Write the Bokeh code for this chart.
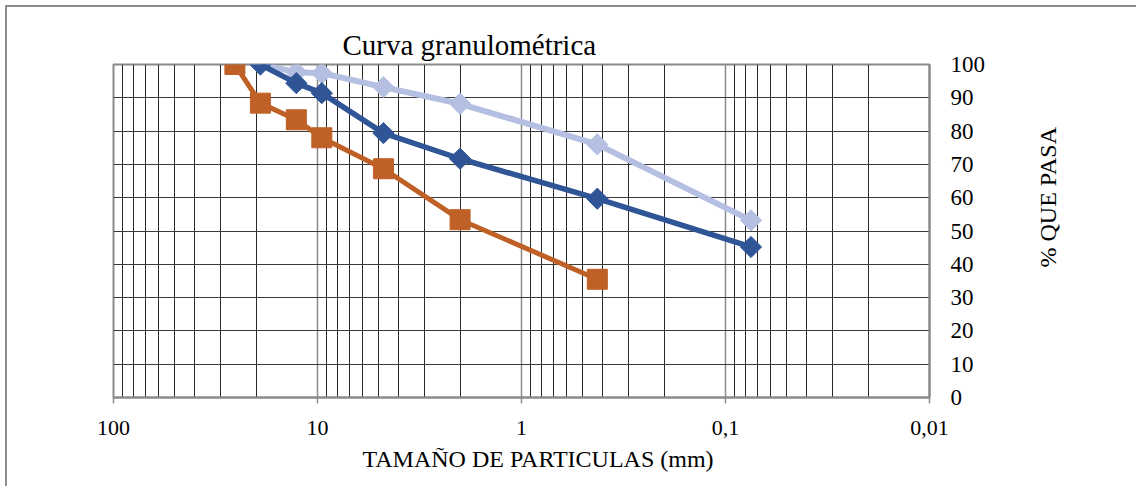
import math
from bokeh.plotting import figure
from bokeh.layouts import row
from bokeh.models import (Range1d, FixedTicker, ColumnDataSource, Title)
from bokeh.embed import file_html
from bokeh.resources import INLINE

# ---- data ----
sieve_mm = [25.4, 19.05, 12.7, 9.525, 4.75, 2.0, 0.425, 0.075]
orange_pass = [100, 88.4, 83.4, 78.0, 68.7, 53.4, 35.5]          # sizes 25.4 .. 0.425
dark_pass = [100, 94.4, 91.4, 79.4, 71.7, 59.7, 45.2]            # sizes 19.05 .. 0.075
light_pass = [100, 97.7, 97.4, 93.2, 88.2, 76.0, 53.2]           # sizes 19.05 .. 0.075
x_ticks = [100, 10, 1, 0.1, 0.01]
x_tick_labels = ["100", "10", "1", "0,1", "0,01"]
y_ticks = [0, 10, 20, 30, 40, 50, 60, 70, 80, 90, 100]
title_text = "Curva granulométrica"
x_title = "TAMAÑO DE PARTICULAS (mm)"
y_title = "% QUE PASA"

FONT = "Liberation Serif"

p = figure(width=1000, height=486, x_axis_type="log",
           x_range=Range1d(100, 0.01), y_range=Range1d(0, 100),
           y_axis_location="right", output_backend="svg",
           toolbar_location=None, title=None,
           min_border_left=113, min_border_right=71,
           min_border_top=64, min_border_bottom=89)
p.background_fill_color = "white"
p.border_fill_color = None
p.outline_line_color = "#8a8a8a"
p.outline_line_width = 2
p.styles = {"box-shadow": "inset 5px 5px 0 0 white, inset 7px 7px 0 0 #8c8c8c",
            "background-color": "white"}

minor = []
for d in [10, 1, 0.1, 0.01]:
    for k in range(2, 10):
        minor.append(round(d * k, 6))

p.xaxis.ticker = FixedTicker(ticks=x_ticks, minor_ticks=minor)
p.xaxis.major_label_overrides = {t: l for t, l in zip(x_ticks, x_tick_labels)}
p.xaxis.major_label_text_font = FONT
p.xaxis.major_label_text_font_size = "22px"
p.xaxis.major_label_text_color = "black"
p.xaxis.major_label_standoff = 17
p.xaxis.axis_line_color = "#8a8a8a"
p.xaxis.axis_line_width = 2
p.xaxis.major_tick_line_color = "#8a8a8a"
p.xaxis.major_tick_line_width = 1.5
p.xaxis.major_tick_out = 6
p.xaxis.major_tick_in = 0
p.xaxis.minor_tick_line_color = None

p.yaxis.ticker = FixedTicker(ticks=y_ticks)
p.yaxis.major_label_text_font = FONT
p.yaxis.major_label_text_font_size = "23px"
p.yaxis.major_label_text_color = "black"
p.yaxis.major_label_standoff = 21
p.yaxis.axis_line_color = "#8a8a8a"
p.yaxis.axis_line_width = 2
p.yaxis.major_tick_out = 0
p.yaxis.major_tick_in = 0
p.yaxis.minor_tick_line_color = None

p.xgrid.grid_line_color = "#8a8a8a"
p.xgrid.grid_line_width = 1.5
p.xgrid.minor_grid_line_color = "#2a2a2a"
p.xgrid.minor_grid_line_width = 1
p.ygrid.grid_line_color = "#3a3a3a"
p.ygrid.grid_line_width = 1

LIGHT = "#B4BFE1"
DARK = "#2F5597"
ORANGE = "#BF6127"

light_src = ColumnDataSource(dict(x=sieve_mm[1:], y=light_pass))
dark_src = ColumnDataSource(dict(x=sieve_mm[1:], y=dark_pass))
orange_src = ColumnDataSource(dict(x=sieve_mm[:7], y=orange_pass))

p.line("x", "y", source=light_src, line_color=LIGHT, line_width=6)
p.scatter("x", "y", source=light_src, marker="square", angle=math.pi / 4,
          size=15, fill_color=LIGHT, line_color=LIGHT)
p.line("x", "y", source=dark_src, line_color=DARK, line_width=5.5)
p.scatter("x", "y", source=dark_src, marker="square", angle=math.pi / 4,
          size=15, fill_color=DARK, line_color=DARK)
p.line("x", "y", source=orange_src, line_color=ORANGE, line_width=5)
p.scatter("x", "y", source=orange_src, marker="square",
          size=20, fill_color=ORANGE, line_color=ORANGE)

# chart title
p.add_layout(Title(text=title_text, align="left", offset=229, standoff=8,
                   text_font=FONT, text_font_size="29px",
                   text_font_style="normal", text_color="black"), "above")
# x-axis title (below the tick labels)
p.add_layout(Title(text=x_title, align="left", offset=249, standoff=12,
                   text_font=FONT, text_font_size="24px",
                   text_font_style="normal", text_color="black"), "below")

# narrow side panel carrying the vertical y-axis title (left title reads upward)
p2 = figure(width=136, height=486, x_range=Range1d(0, 1), y_range=Range1d(0, 1),
            x_axis_location=None, y_axis_location=None, output_backend="svg",
            toolbar_location=None, title=None, min_border=0,
            min_border_left=62)
p2.grid.visible = False
p2.outline_line_color = None
p2.background_fill_color = "white"
p2.border_fill_color = None
p2.styles = {"box-shadow": "inset 0 5px 0 0 white, inset 0 7px 0 0 #8c8c8c",
             "background-color": "white"}
p2.add_layout(Title(text=y_title, align="left", offset=130, standoff=4,
                    text_font=FONT, text_font_size="24px",
                    text_font_style="normal", text_color="black"), "left")

layout = row(p, p2, spacing=0)
open("out.html", "w").write(file_html(layout, INLINE))
